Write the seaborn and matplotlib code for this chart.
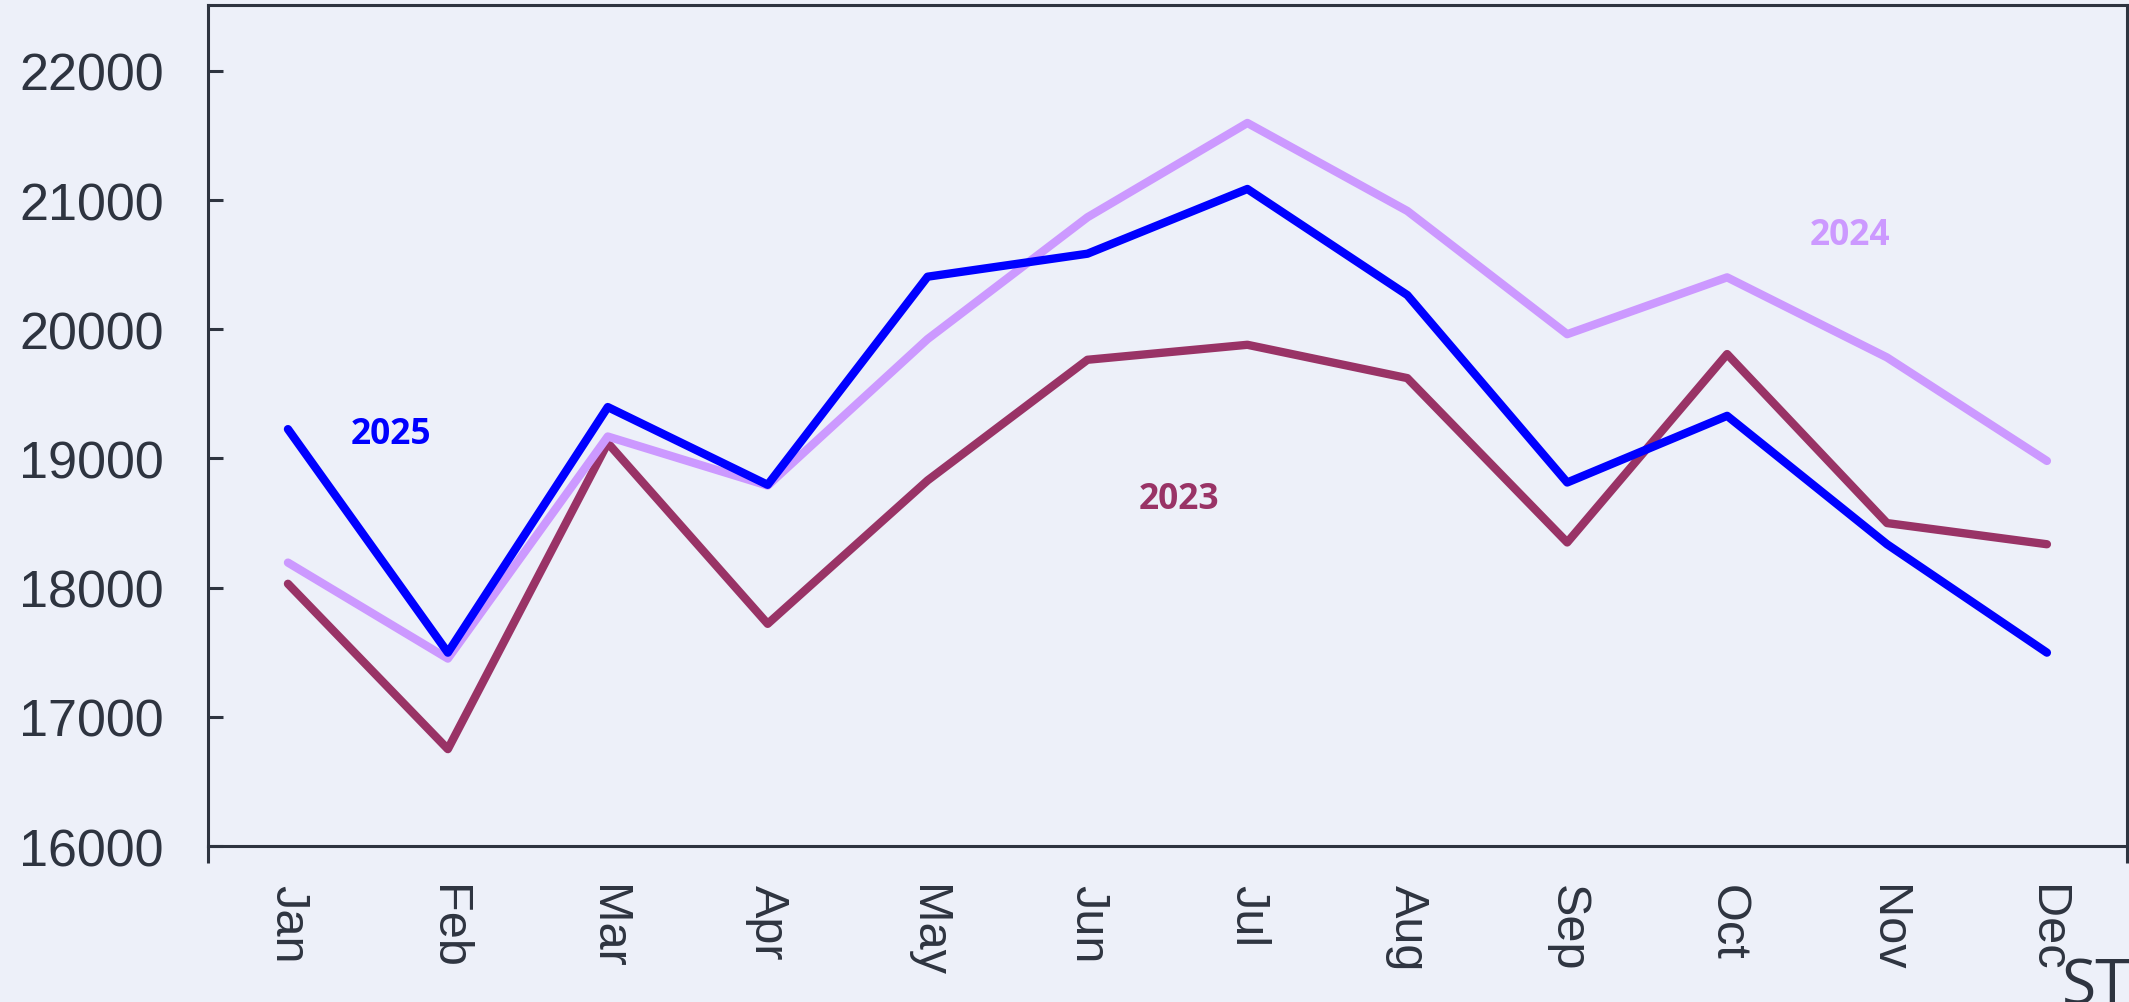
import numpy as np
import pandas as pd
import seaborn as sns
import matplotlib.pyplot as plt
from matplotlib.ticker import FixedLocator

months = ["Jan", "Feb", "Mar", "Apr", "May", "Jun", "Jul", "Aug", "Sep", "Oct", "Nov", "Dec"]
sales_2023 = [18030, 16750, 19120, 17720, 18830, 19764, 19880, 19622, 18350, 19808, 18500, 18336]
sales_2024 = [18194, 17451, 19170, 18790, 19924, 20867, 21597, 20916, 19962, 20402, 19782, 18981]
sales_2025 = [19227, 17497, 19398, 18796, 20407, 20585, 21086, 20265, 18814, 19330, 18336, 17497]
years = ["2023", "2024", "2025"]
colors = {"2023": "#993366", "2024": "#CC99FF", "2025": "#0000FF"}
yticks = [16000, 17000, 18000, 19000, 20000, 21000, 22000]

BG = "#EDF0F9"
DARK = "#2E3440"

sns.set_theme(style="white", rc={"axes.facecolor": BG, "figure.facecolor": BG})
plt.rcParams["font.family"] = ["Liberation Sans", "DejaVu Sans"]

df = pd.DataFrame({
    "month": months * 3,
    "value": sales_2023 + sales_2024 + sales_2025,
    "year": [y for y in years for _ in months],
})

fig = plt.figure(figsize=(21.29, 10.03), dpi=100)
ax = fig.add_axes([0.0977, 0.1555, 0.9013, 0.8385])
ax.set_facecolor(BG)

sns.lineplot(data=df, x="month", y="value", hue="year", hue_order=years,
             palette=colors, lw=6.0, ax=ax, legend=False, sort=False)

ax.set_xlim(-0.5, 11.5)
ax.set_ylim(16000, 22510)
ax.set_yticks(yticks)
ax.set_yticklabels([str(v) for v in yticks])
ax.set_xlabel("")
ax.set_ylabel("")

for s in ax.spines.values():
    s.set_visible(True)
    s.set_color(DARK)
    s.set_linewidth(2.2)

ax.tick_params(axis="y", which="major", direction="in", length=11, width=2.2,
               color=DARK, labelcolor=DARK, labelsize=37.5, pad=32, left=True)
ax.tick_params(axis="x", which="major", length=0, labelsize=35, pad=27,
               labelcolor=DARK, labelrotation=-90)
ax.xaxis.set_minor_locator(FixedLocator([-0.5, 11.5]))
ax.tick_params(axis="x", which="minor", direction="out", length=12, width=2.2,
               color=DARK, bottom=True)

label_pos = {"2025": (0.646, 19191), "2024": (9.77, 20727), "2023": (5.575, 18686)}
for yr, (xp, yp) in label_pos.items():
    ax.text(xp, yp, yr, color=colors[yr], fontsize=25.5, fontweight="bold",
            family=["Open Sans", "DejaVu Sans"], ha="center", va="center")

fig.text(2062 / 2129, 1 - 1005 / 1003, "ST", color=DARK, fontsize=45,
         family=["Open Sans", "DejaVu Sans"], ha="left", va="baseline")

fig.savefig("out.png", dpi=100, facecolor=BG)
